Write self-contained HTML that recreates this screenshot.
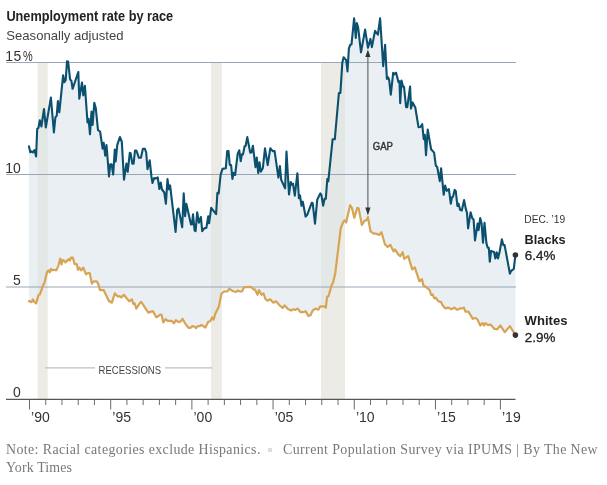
<!DOCTYPE html>
<html><head><meta charset="utf-8"><title>Unemployment rate by race</title>
<style>
html,body{margin:0;padding:0;background:#fff;}
body{width:607px;height:485px;overflow:hidden;position:relative;font-family:"Liberation Sans",sans-serif;}
svg{position:absolute;left:0;top:0;will-change:transform;}
svg text{font-family:"Liberation Sans",sans-serif;}
.foot{will-change:transform;position:absolute;left:6px;top:441px;width:601px;font-family:"Liberation Serif",serif;font-size:13.9px;line-height:18px;color:#787878;letter-spacing:0.4px;white-space:nowrap;}
.sep{display:inline-block;width:4px;height:4px;background:#ddd;margin:0 11px 2px 7.3px;vertical-align:middle;}
</style></head><body>
<svg width="607" height="485" viewBox="0 0 607 485">
<defs><clipPath id="ac"><path d="M29.0,146.4 L30.3,152.3 L31.6,151.3 L32.9,152.3 L34.5,150.0 L36.1,156.5 L37.2,129.0 L38.5,127.7 L39.8,120.3 L41.4,126.5 L44.0,109.0 L45.8,127.5 L50.9,97.6 L53.9,132.5 L55.4,117.2 L56.7,115.8 L57.9,101.0 L59.3,112.3 L63.1,75.3 L64.4,82.2 L65.7,80.1 L67.0,61.4 L68.1,61.6 L70.1,79.4 L71.4,80.7 L72.6,88.8 L78.3,72.0 L79.3,98.7 L82.0,82.5 L83.3,95.4 L84.9,85.8 L87.5,122.4 L88.6,118.8 L90.0,134.3 L91.5,111.5 L92.6,125.0 L94.3,102.9 L95.8,108.3 L98.0,130.1 L100.1,131.5 L102.6,148.6 L103.7,142.8 L105.2,155.6 L106.5,145.0 L109.0,176.4 L110.3,164.4 L111.6,164.4 L113.2,174.5 L114.8,149.5 L115.7,161.5 L117.2,145.2 L119.9,137.0 L121.8,141.6 L124.0,179.7 L126.4,163.6 L127.7,171.8 L129.8,152.9 L130.6,153.2 L132.3,163.7 L133.6,163.7 L135.0,150.5 L136.4,150.5 L138.9,157.8 L140.9,157.8 L142.9,148.7 L144.9,148.8 L146.2,152.5 L147.5,169.2 L149.7,160.3 L151.5,176.9 L152.5,183.0 L154.1,178.1 L156.1,178.4 L157.7,177.4 L159.4,189.0 L160.7,182.5 L162.0,189.5 L164.3,192.5 L165.9,203.8 L167.5,179.1 L168.8,189.3 L170.1,185.4 L175.6,231.9 L177.2,210.0 L178.5,208.5 L182.2,227.3 L183.7,193.3 L185.1,216.1 L186.4,203.9 L191.0,224.5 L192.0,224.5 L193.0,214.4 L194.6,230.4 L195.6,231.2 L197.2,212.4 L198.9,222.7 L200.9,217.1 L202.2,231.2 L204.2,228.3 L206.4,227.9 L208.2,216.4 L209.1,223.3 L211.2,207.8 L216.1,214.1 L217.4,192.7 L218.7,193.5 L220.6,174.9 L222.5,168.9 L225.8,168.3 L227.2,151.1 L228.5,151.1 L229.8,165.0 L231.1,165.0 L232.4,179.0 L233.7,172.7 L235.1,175.0 L237.7,153.7 L239.3,150.3 L240.7,161.2 L241.9,154.4 L243.0,154.4 L244.6,146.3 L245.6,146.0 L247.3,137.1 L250.2,152.6 L251.5,152.4 L252.9,145.7 L255.5,167.1 L256.8,157.5 L258.2,173.0 L259.5,162.2 L260.8,171.7 L262.8,168.3 L265.0,148.3 L267.7,165.1 L270.3,148.3 L272.7,151.1 L274.6,151.1 L278.4,177.6 L279.9,166.0 L281.2,179.8 L285.1,188.4 L286.5,151.5 L289.0,194.5 L290.7,182.0 L291.8,184.7 L293.0,183.7 L294.8,195.7 L297.4,173.2 L298.9,198.2 L300.0,195.4 L301.5,205.8 L302.8,201.7 L305.6,216.6 L307.3,214.7 L311.7,202.8 L312.7,203.3 L315.0,223.6 L317.2,199.8 L320.3,193.4 L321.4,194.9 L323.1,205.7 L324.6,198.8 L325.8,198.8 L327.3,179.0 L328.3,181.4 L332.6,139.3 L334.8,139.3 L338.9,93.0 L340.4,92.9 L342.3,62.8 L343.6,57.3 L346.2,60.1 L347.5,71.5 L348.9,48.3 L350.2,44.8 L351.5,44.5 L354.1,18.4 L355.8,37.9 L356.8,23.0 L358.1,27.2 L361.0,52.4 L365.1,29.6 L368.0,47.8 L370.4,38.9 L371.9,47.1 L375.0,30.9 L377.9,34.6 L380.1,18.4 L383.2,66.2 L385.1,44.8 L386.9,78.9 L388.2,77.3 L389.2,80.1 L390.8,94.7 L393.2,72.7 L394.6,74.3 L396.1,72.7 L398.5,82.2 L399.5,81.2 L400.2,103.3 L401.5,80.6 L403.1,86.7 L404.0,86.7 L406.1,107.1 L407.3,107.1 L410.1,86.5 L411.0,108.6 L412.6,102.4 L415.3,107.5 L418.5,127.2 L420.4,127.0 L422.2,124.2 L423.7,139.1 L424.8,134.8 L426.0,155.1 L427.7,129.5 L431.1,149.3 L434.1,152.6 L435.8,165.7 L437.2,167.0 L439.8,181.1 L441.1,168.2 L443.7,194.8 L445.1,185.6 L446.7,190.8 L448.9,189.2 L450.8,203.7 L452.0,197.1 L453.0,196.7 L454.7,189.8 L455.8,191.2 L457.4,206.0 L458.5,203.6 L460.1,209.7 L461.8,210.5 L464.1,200.1 L465.7,208.4 L467.0,213.0 L468.1,228.3 L470.6,212.2 L472.3,218.3 L473.6,219.6 L475.0,240.4 L477.6,223.6 L478.6,230.1 L480.2,218.1 L481.6,223.5 L483.0,242.7 L484.5,222.9 L486.4,243.1 L487.7,247.7 L488.8,247.7 L489.8,261.7 L491.1,250.8 L492.7,251.7 L494.0,251.7 L495.3,258.4 L496.7,252.2 L498.0,258.4 L499.6,251.7 L501.9,239.4 L503.3,245.1 L504.6,245.1 L509.9,273.6 L511.2,270.8 L513.8,268.8 L515.4,255.0 L515.4,335.1 L509.9,326.1 L504.7,332.2 L500.3,325.4 L497.3,329.2 L494.3,328.8 L490.6,324.6 L487.7,324.8 L485.4,323.1 L484.0,325.5 L482.5,323.1 L480.3,325.5 L477.3,319.1 L475.1,317.9 L472.8,318.8 L468.4,311.7 L465.4,311.7 L463.9,307.6 L462.4,308.4 L460.2,308.3 L457.3,309.9 L454.3,307.6 L451.3,309.2 L448.4,307.6 L445.4,308.4 L442.4,305.0 L441.0,302.1 L438.0,301.0 L435.9,297.7 L434.3,298.4 L432.6,294.4 L431.3,295.1 L429.6,290.1 L426.7,287.5 L423.4,285.5 L422.0,279.2 L419.4,281.3 L414.8,267.3 L412.2,269.4 L408.2,256.1 L404.2,258.8 L402.7,252.2 L400.3,256.2 L398.2,254.4 L394.9,249.4 L393.6,251.4 L390.3,244.8 L387.7,246.8 L385.0,244.5 L381.5,232.2 L379.1,234.9 L375.8,233.6 L373.8,233.6 L370.5,231.3 L367.9,217.1 L366.5,220.1 L364.6,220.7 L361.9,225.0 L358.6,208.2 L357.3,207.8 L354.3,217.8 L352.0,208.2 L350.1,205.2 L346.1,222.4 L344.8,220.4 L343.5,221.4 L340.8,228.0 L338.1,250.0 L335.4,272.4 L333.2,282.3 L331.5,285.6 L328.5,296.2 L327.1,296.8 L325.8,307.7 L324.2,306.4 L322.3,306.5 L320.3,306.4 L318.3,309.7 L315.6,308.6 L312.9,310.2 L310.3,315.5 L308.3,315.9 L305.7,311.2 L303.1,312.2 L300.4,312.2 L297.8,308.6 L295.1,309.9 L293.2,309.2 L291.2,310.6 L287.9,308.9 L284.6,305.3 L282.6,308.0 L279.3,305.0 L276.0,301.3 L273.4,302.7 L270.1,299.3 L267.4,300.7 L265.4,299.0 L263.5,293.4 L261.5,294.8 L258.9,290.1 L257.5,294.8 L254.9,289.4 L253.6,289.5 L250.9,286.8 L246.5,287.2 L244.1,287.2 L241.9,291.5 L239.9,291.5 L237.9,290.5 L236.0,291.9 L234.0,291.5 L231.3,290.2 L229.4,288.5 L227.4,291.5 L224.1,291.5 L221.5,293.5 L218.8,306.7 L215.5,313.3 L213.5,319.6 L212.2,317.5 L210.2,321.2 L208.3,321.8 L205.4,327.5 L201.4,324.8 L199.7,326.2 L197.7,326.1 L196.0,328.1 L194.4,326.5 L192.4,326.1 L190.4,327.8 L188.5,327.8 L185.8,324.5 L182.5,318.8 L180.8,321.5 L179.9,321.5 L178.6,322.2 L175.9,320.2 L173.9,323.3 L171.5,320.8 L167.6,320.8 L165.6,319.1 L163.3,322.5 L161.6,314.9 L160.3,314.5 L158.3,316.2 L156.3,317.2 L153.0,311.2 L151.1,311.6 L148.4,312.6 L144.5,306.9 L141.4,302.0 L139.9,303.0 L136.3,308.6 L134.6,303.3 L133.3,304.0 L131.9,299.3 L129.3,301.4 L123.8,294.7 L121.4,297.4 L119.4,296.0 L118.1,296.7 L114.8,293.4 L111.9,302.7 L108.9,301.0 L103.6,290.1 L100.0,290.1 L98.5,284.6 L96.7,281.3 L93.9,281.3 L91.9,283.6 L89.7,273.0 L87.3,273.4 L86.0,274.4 L83.3,267.7 L81.3,270.4 L79.4,267.7 L78.0,269.8 L76.7,264.1 L74.7,264.1 L72.8,257.5 L71.1,257.5 L69.9,260.5 L68.8,259.2 L67.5,260.2 L65.5,262.5 L63.6,260.2 L62.5,260.2 L61.6,264.5 L60.2,258.5 L58.3,266.1 L56.3,270.4 L53.6,269.7 L52.3,270.4 L51.0,269.0 L49.7,272.4 L48.4,270.4 L47.0,272.0 L44.4,283.3 L43.1,285.2 L41.1,291.2 L39.8,294.5 L38.5,295.1 L36.1,303.4 L34.2,301.7 L32.9,299.4 L31.6,302.1 L29.0,301.1 Z"/></clipPath></defs>
<text x="6.4" y="20.9" font-size="13.8px" font-weight="700" fill="#222" textLength="166.8" lengthAdjust="spacingAndGlyphs">Unemployment rate by race</text>
<text x="6.3" y="39.9" font-size="13.1px" fill="#444">Seasonally adjusted</text>
<g fill="#ecebe5"><rect x="37.6" y="62.3" width="10.1" height="337.1"/><rect x="211.0" y="62.3" width="10.8" height="337.1"/><rect x="321.0" y="62.3" width="24.0" height="337.1"/></g>
<path d="M29.0,146.4 L30.3,152.3 L31.6,151.3 L32.9,152.3 L34.5,150.0 L36.1,156.5 L37.2,129.0 L38.5,127.7 L39.8,120.3 L41.4,126.5 L44.0,109.0 L45.8,127.5 L50.9,97.6 L53.9,132.5 L55.4,117.2 L56.7,115.8 L57.9,101.0 L59.3,112.3 L63.1,75.3 L64.4,82.2 L65.7,80.1 L67.0,61.4 L68.1,61.6 L70.1,79.4 L71.4,80.7 L72.6,88.8 L78.3,72.0 L79.3,98.7 L82.0,82.5 L83.3,95.4 L84.9,85.8 L87.5,122.4 L88.6,118.8 L90.0,134.3 L91.5,111.5 L92.6,125.0 L94.3,102.9 L95.8,108.3 L98.0,130.1 L100.1,131.5 L102.6,148.6 L103.7,142.8 L105.2,155.6 L106.5,145.0 L109.0,176.4 L110.3,164.4 L111.6,164.4 L113.2,174.5 L114.8,149.5 L115.7,161.5 L117.2,145.2 L119.9,137.0 L121.8,141.6 L124.0,179.7 L126.4,163.6 L127.7,171.8 L129.8,152.9 L130.6,153.2 L132.3,163.7 L133.6,163.7 L135.0,150.5 L136.4,150.5 L138.9,157.8 L140.9,157.8 L142.9,148.7 L144.9,148.8 L146.2,152.5 L147.5,169.2 L149.7,160.3 L151.5,176.9 L152.5,183.0 L154.1,178.1 L156.1,178.4 L157.7,177.4 L159.4,189.0 L160.7,182.5 L162.0,189.5 L164.3,192.5 L165.9,203.8 L167.5,179.1 L168.8,189.3 L170.1,185.4 L175.6,231.9 L177.2,210.0 L178.5,208.5 L182.2,227.3 L183.7,193.3 L185.1,216.1 L186.4,203.9 L191.0,224.5 L192.0,224.5 L193.0,214.4 L194.6,230.4 L195.6,231.2 L197.2,212.4 L198.9,222.7 L200.9,217.1 L202.2,231.2 L204.2,228.3 L206.4,227.9 L208.2,216.4 L209.1,223.3 L211.2,207.8 L216.1,214.1 L217.4,192.7 L218.7,193.5 L220.6,174.9 L222.5,168.9 L225.8,168.3 L227.2,151.1 L228.5,151.1 L229.8,165.0 L231.1,165.0 L232.4,179.0 L233.7,172.7 L235.1,175.0 L237.7,153.7 L239.3,150.3 L240.7,161.2 L241.9,154.4 L243.0,154.4 L244.6,146.3 L245.6,146.0 L247.3,137.1 L250.2,152.6 L251.5,152.4 L252.9,145.7 L255.5,167.1 L256.8,157.5 L258.2,173.0 L259.5,162.2 L260.8,171.7 L262.8,168.3 L265.0,148.3 L267.7,165.1 L270.3,148.3 L272.7,151.1 L274.6,151.1 L278.4,177.6 L279.9,166.0 L281.2,179.8 L285.1,188.4 L286.5,151.5 L289.0,194.5 L290.7,182.0 L291.8,184.7 L293.0,183.7 L294.8,195.7 L297.4,173.2 L298.9,198.2 L300.0,195.4 L301.5,205.8 L302.8,201.7 L305.6,216.6 L307.3,214.7 L311.7,202.8 L312.7,203.3 L315.0,223.6 L317.2,199.8 L320.3,193.4 L321.4,194.9 L323.1,205.7 L324.6,198.8 L325.8,198.8 L327.3,179.0 L328.3,181.4 L332.6,139.3 L334.8,139.3 L338.9,93.0 L340.4,92.9 L342.3,62.8 L343.6,57.3 L346.2,60.1 L347.5,71.5 L348.9,48.3 L350.2,44.8 L351.5,44.5 L354.1,18.4 L355.8,37.9 L356.8,23.0 L358.1,27.2 L361.0,52.4 L365.1,29.6 L368.0,47.8 L370.4,38.9 L371.9,47.1 L375.0,30.9 L377.9,34.6 L380.1,18.4 L383.2,66.2 L385.1,44.8 L386.9,78.9 L388.2,77.3 L389.2,80.1 L390.8,94.7 L393.2,72.7 L394.6,74.3 L396.1,72.7 L398.5,82.2 L399.5,81.2 L400.2,103.3 L401.5,80.6 L403.1,86.7 L404.0,86.7 L406.1,107.1 L407.3,107.1 L410.1,86.5 L411.0,108.6 L412.6,102.4 L415.3,107.5 L418.5,127.2 L420.4,127.0 L422.2,124.2 L423.7,139.1 L424.8,134.8 L426.0,155.1 L427.7,129.5 L431.1,149.3 L434.1,152.6 L435.8,165.7 L437.2,167.0 L439.8,181.1 L441.1,168.2 L443.7,194.8 L445.1,185.6 L446.7,190.8 L448.9,189.2 L450.8,203.7 L452.0,197.1 L453.0,196.7 L454.7,189.8 L455.8,191.2 L457.4,206.0 L458.5,203.6 L460.1,209.7 L461.8,210.5 L464.1,200.1 L465.7,208.4 L467.0,213.0 L468.1,228.3 L470.6,212.2 L472.3,218.3 L473.6,219.6 L475.0,240.4 L477.6,223.6 L478.6,230.1 L480.2,218.1 L481.6,223.5 L483.0,242.7 L484.5,222.9 L486.4,243.1 L487.7,247.7 L488.8,247.7 L489.8,261.7 L491.1,250.8 L492.7,251.7 L494.0,251.7 L495.3,258.4 L496.7,252.2 L498.0,258.4 L499.6,251.7 L501.9,239.4 L503.3,245.1 L504.6,245.1 L509.9,273.6 L511.2,270.8 L513.8,268.8 L515.4,255.0 L515.4,335.1 L509.9,326.1 L504.7,332.2 L500.3,325.4 L497.3,329.2 L494.3,328.8 L490.6,324.6 L487.7,324.8 L485.4,323.1 L484.0,325.5 L482.5,323.1 L480.3,325.5 L477.3,319.1 L475.1,317.9 L472.8,318.8 L468.4,311.7 L465.4,311.7 L463.9,307.6 L462.4,308.4 L460.2,308.3 L457.3,309.9 L454.3,307.6 L451.3,309.2 L448.4,307.6 L445.4,308.4 L442.4,305.0 L441.0,302.1 L438.0,301.0 L435.9,297.7 L434.3,298.4 L432.6,294.4 L431.3,295.1 L429.6,290.1 L426.7,287.5 L423.4,285.5 L422.0,279.2 L419.4,281.3 L414.8,267.3 L412.2,269.4 L408.2,256.1 L404.2,258.8 L402.7,252.2 L400.3,256.2 L398.2,254.4 L394.9,249.4 L393.6,251.4 L390.3,244.8 L387.7,246.8 L385.0,244.5 L381.5,232.2 L379.1,234.9 L375.8,233.6 L373.8,233.6 L370.5,231.3 L367.9,217.1 L366.5,220.1 L364.6,220.7 L361.9,225.0 L358.6,208.2 L357.3,207.8 L354.3,217.8 L352.0,208.2 L350.1,205.2 L346.1,222.4 L344.8,220.4 L343.5,221.4 L340.8,228.0 L338.1,250.0 L335.4,272.4 L333.2,282.3 L331.5,285.6 L328.5,296.2 L327.1,296.8 L325.8,307.7 L324.2,306.4 L322.3,306.5 L320.3,306.4 L318.3,309.7 L315.6,308.6 L312.9,310.2 L310.3,315.5 L308.3,315.9 L305.7,311.2 L303.1,312.2 L300.4,312.2 L297.8,308.6 L295.1,309.9 L293.2,309.2 L291.2,310.6 L287.9,308.9 L284.6,305.3 L282.6,308.0 L279.3,305.0 L276.0,301.3 L273.4,302.7 L270.1,299.3 L267.4,300.7 L265.4,299.0 L263.5,293.4 L261.5,294.8 L258.9,290.1 L257.5,294.8 L254.9,289.4 L253.6,289.5 L250.9,286.8 L246.5,287.2 L244.1,287.2 L241.9,291.5 L239.9,291.5 L237.9,290.5 L236.0,291.9 L234.0,291.5 L231.3,290.2 L229.4,288.5 L227.4,291.5 L224.1,291.5 L221.5,293.5 L218.8,306.7 L215.5,313.3 L213.5,319.6 L212.2,317.5 L210.2,321.2 L208.3,321.8 L205.4,327.5 L201.4,324.8 L199.7,326.2 L197.7,326.1 L196.0,328.1 L194.4,326.5 L192.4,326.1 L190.4,327.8 L188.5,327.8 L185.8,324.5 L182.5,318.8 L180.8,321.5 L179.9,321.5 L178.6,322.2 L175.9,320.2 L173.9,323.3 L171.5,320.8 L167.6,320.8 L165.6,319.1 L163.3,322.5 L161.6,314.9 L160.3,314.5 L158.3,316.2 L156.3,317.2 L153.0,311.2 L151.1,311.6 L148.4,312.6 L144.5,306.9 L141.4,302.0 L139.9,303.0 L136.3,308.6 L134.6,303.3 L133.3,304.0 L131.9,299.3 L129.3,301.4 L123.8,294.7 L121.4,297.4 L119.4,296.0 L118.1,296.7 L114.8,293.4 L111.9,302.7 L108.9,301.0 L103.6,290.1 L100.0,290.1 L98.5,284.6 L96.7,281.3 L93.9,281.3 L91.9,283.6 L89.7,273.0 L87.3,273.4 L86.0,274.4 L83.3,267.7 L81.3,270.4 L79.4,267.7 L78.0,269.8 L76.7,264.1 L74.7,264.1 L72.8,257.5 L71.1,257.5 L69.9,260.5 L68.8,259.2 L67.5,260.2 L65.5,262.5 L63.6,260.2 L62.5,260.2 L61.6,264.5 L60.2,258.5 L58.3,266.1 L56.3,270.4 L53.6,269.7 L52.3,270.4 L51.0,269.0 L49.7,272.4 L48.4,270.4 L47.0,272.0 L44.4,283.3 L43.1,285.2 L41.1,291.2 L39.8,294.5 L38.5,295.1 L36.1,303.4 L34.2,301.7 L32.9,299.4 L31.6,302.1 L29.0,301.1 Z" fill="#e9eff2"/>
<g fill="#e3e7e6" clip-path="url(#ac)"><rect x="37.6" y="62.3" width="10.1" height="337.1"/><rect x="211.0" y="62.3" width="10.8" height="337.1"/><rect x="321.0" y="62.3" width="24.0" height="337.1"/></g>
<g stroke="#98a6b5" stroke-width="1">
<line x1="6" x2="516" y1="62.5" y2="62.5"/>
<line x1="6" x2="516" y1="174.5" y2="174.5"/>
<line x1="6" x2="516" y1="287" y2="287"/>
</g>
<g font-size="14px" fill="#333">
<text x="5.2" y="60.7" letter-spacing="0.5">15</text><text x="23.1" y="60.7" textLength="9.7" lengthAdjust="spacingAndGlyphs">%</text>
<text x="20.8" y="173" text-anchor="end">10</text>
<text x="20.8" y="285.1" text-anchor="end">5</text>
<text x="20.8" y="396.7" text-anchor="end">0</text>
</g>
<path d="M29.0,301.1 L31.6,302.1 L32.9,299.4 L34.2,301.7 L36.1,303.4 L38.5,295.1 L39.8,294.5 L41.1,291.2 L43.1,285.2 L44.4,283.3 L47.0,272.0 L48.4,270.4 L49.7,272.4 L51.0,269.0 L52.3,270.4 L53.6,269.7 L56.3,270.4 L58.3,266.1 L60.2,258.5 L61.6,264.5 L62.5,260.2 L63.6,260.2 L65.5,262.5 L67.5,260.2 L68.8,259.2 L69.9,260.5 L71.1,257.5 L72.8,257.5 L74.7,264.1 L76.7,264.1 L78.0,269.8 L79.4,267.7 L81.3,270.4 L83.3,267.7 L86.0,274.4 L87.3,273.4 L89.7,273.0 L91.9,283.6 L93.9,281.3 L96.7,281.3 L98.5,284.6 L100.0,290.1 L103.6,290.1 L108.9,301.0 L111.9,302.7 L114.8,293.4 L118.1,296.7 L119.4,296.0 L121.4,297.4 L123.8,294.7 L129.3,301.4 L131.9,299.3 L133.3,304.0 L134.6,303.3 L136.3,308.6 L139.9,303.0 L141.4,302.0 L144.5,306.9 L148.4,312.6 L151.1,311.6 L153.0,311.2 L156.3,317.2 L158.3,316.2 L160.3,314.5 L161.6,314.9 L163.3,322.5 L165.6,319.1 L167.6,320.8 L171.5,320.8 L173.9,323.3 L175.9,320.2 L178.6,322.2 L179.9,321.5 L180.8,321.5 L182.5,318.8 L185.8,324.5 L188.5,327.8 L190.4,327.8 L192.4,326.1 L194.4,326.5 L196.0,328.1 L197.7,326.1 L199.7,326.2 L201.4,324.8 L205.4,327.5 L208.3,321.8 L210.2,321.2 L212.2,317.5 L213.5,319.6 L215.5,313.3 L218.8,306.7 L221.5,293.5 L224.1,291.5 L227.4,291.5 L229.4,288.5 L231.3,290.2 L234.0,291.5 L236.0,291.9 L237.9,290.5 L239.9,291.5 L241.9,291.5 L244.1,287.2 L246.5,287.2 L250.9,286.8 L253.6,289.5 L254.9,289.4 L257.5,294.8 L258.9,290.1 L261.5,294.8 L263.5,293.4 L265.4,299.0 L267.4,300.7 L270.1,299.3 L273.4,302.7 L276.0,301.3 L279.3,305.0 L282.6,308.0 L284.6,305.3 L287.9,308.9 L291.2,310.6 L293.2,309.2 L295.1,309.9 L297.8,308.6 L300.4,312.2 L303.1,312.2 L305.7,311.2 L308.3,315.9 L310.3,315.5 L312.9,310.2 L315.6,308.6 L318.3,309.7 L320.3,306.4 L322.3,306.5 L324.2,306.4 L325.8,307.7 L327.1,296.8 L328.5,296.2 L331.5,285.6 L333.2,282.3 L335.4,272.4 L338.1,250.0 L340.8,228.0 L343.5,221.4 L344.8,220.4 L346.1,222.4 L350.1,205.2 L352.0,208.2 L354.3,217.8 L357.3,207.8 L358.6,208.2 L361.9,225.0 L364.6,220.7 L366.5,220.1 L367.9,217.1 L370.5,231.3 L373.8,233.6 L375.8,233.6 L379.1,234.9 L381.5,232.2 L385.0,244.5 L387.7,246.8 L390.3,244.8 L393.6,251.4 L394.9,249.4 L398.2,254.4 L400.3,256.2 L402.7,252.2 L404.2,258.8 L408.2,256.1 L412.2,269.4 L414.8,267.3 L419.4,281.3 L422.0,279.2 L423.4,285.5 L426.7,287.5 L429.6,290.1 L431.3,295.1 L432.6,294.4 L434.3,298.4 L435.9,297.7 L438.0,301.0 L441.0,302.1 L442.4,305.0 L445.4,308.4 L448.4,307.6 L451.3,309.2 L454.3,307.6 L457.3,309.9 L460.2,308.3 L462.4,308.4 L463.9,307.6 L465.4,311.7 L468.4,311.7 L472.8,318.8 L475.1,317.9 L477.3,319.1 L480.3,325.5 L482.5,323.1 L484.0,325.5 L485.4,323.1 L487.7,324.8 L490.6,324.6 L494.3,328.8 L497.3,329.2 L500.3,325.4 L504.7,332.2 L509.9,326.1 L515.4,335.1" fill="none" stroke="#d7a454" stroke-width="2.2" stroke-linejoin="round" stroke-linecap="round"/>
<path d="M29.0,146.4 L30.3,152.3 L31.6,151.3 L32.9,152.3 L34.5,150.0 L36.1,156.5 L37.2,129.0 L38.5,127.7 L39.8,120.3 L41.4,126.5 L44.0,109.0 L45.8,127.5 L50.9,97.6 L53.9,132.5 L55.4,117.2 L56.7,115.8 L57.9,101.0 L59.3,112.3 L63.1,75.3 L64.4,82.2 L65.7,80.1 L67.0,61.4 L68.1,61.6 L70.1,79.4 L71.4,80.7 L72.6,88.8 L78.3,72.0 L79.3,98.7 L82.0,82.5 L83.3,95.4 L84.9,85.8 L87.5,122.4 L88.6,118.8 L90.0,134.3 L91.5,111.5 L92.6,125.0 L94.3,102.9 L95.8,108.3 L98.0,130.1 L100.1,131.5 L102.6,148.6 L103.7,142.8 L105.2,155.6 L106.5,145.0 L109.0,176.4 L110.3,164.4 L111.6,164.4 L113.2,174.5 L114.8,149.5 L115.7,161.5 L117.2,145.2 L119.9,137.0 L121.8,141.6 L124.0,179.7 L126.4,163.6 L127.7,171.8 L129.8,152.9 L130.6,153.2 L132.3,163.7 L133.6,163.7 L135.0,150.5 L136.4,150.5 L138.9,157.8 L140.9,157.8 L142.9,148.7 L144.9,148.8 L146.2,152.5 L147.5,169.2 L149.7,160.3 L151.5,176.9 L152.5,183.0 L154.1,178.1 L156.1,178.4 L157.7,177.4 L159.4,189.0 L160.7,182.5 L162.0,189.5 L164.3,192.5 L165.9,203.8 L167.5,179.1 L168.8,189.3 L170.1,185.4 L175.6,231.9 L177.2,210.0 L178.5,208.5 L182.2,227.3 L183.7,193.3 L185.1,216.1 L186.4,203.9 L191.0,224.5 L192.0,224.5 L193.0,214.4 L194.6,230.4 L195.6,231.2 L197.2,212.4 L198.9,222.7 L200.9,217.1 L202.2,231.2 L204.2,228.3 L206.4,227.9 L208.2,216.4 L209.1,223.3 L211.2,207.8 L216.1,214.1 L217.4,192.7 L218.7,193.5 L220.6,174.9 L222.5,168.9 L225.8,168.3 L227.2,151.1 L228.5,151.1 L229.8,165.0 L231.1,165.0 L232.4,179.0 L233.7,172.7 L235.1,175.0 L237.7,153.7 L239.3,150.3 L240.7,161.2 L241.9,154.4 L243.0,154.4 L244.6,146.3 L245.6,146.0 L247.3,137.1 L250.2,152.6 L251.5,152.4 L252.9,145.7 L255.5,167.1 L256.8,157.5 L258.2,173.0 L259.5,162.2 L260.8,171.7 L262.8,168.3 L265.0,148.3 L267.7,165.1 L270.3,148.3 L272.7,151.1 L274.6,151.1 L278.4,177.6 L279.9,166.0 L281.2,179.8 L285.1,188.4 L286.5,151.5 L289.0,194.5 L290.7,182.0 L291.8,184.7 L293.0,183.7 L294.8,195.7 L297.4,173.2 L298.9,198.2 L300.0,195.4 L301.5,205.8 L302.8,201.7 L305.6,216.6 L307.3,214.7 L311.7,202.8 L312.7,203.3 L315.0,223.6 L317.2,199.8 L320.3,193.4 L321.4,194.9 L323.1,205.7 L324.6,198.8 L325.8,198.8 L327.3,179.0 L328.3,181.4 L332.6,139.3 L334.8,139.3 L338.9,93.0 L340.4,92.9 L342.3,62.8 L343.6,57.3 L346.2,60.1 L347.5,71.5 L348.9,48.3 L350.2,44.8 L351.5,44.5 L354.1,18.4 L355.8,37.9 L356.8,23.0 L358.1,27.2 L361.0,52.4 L365.1,29.6 L368.0,47.8 L370.4,38.9 L371.9,47.1 L375.0,30.9 L377.9,34.6 L380.1,18.4 L383.2,66.2 L385.1,44.8 L386.9,78.9 L388.2,77.3 L389.2,80.1 L390.8,94.7 L393.2,72.7 L394.6,74.3 L396.1,72.7 L398.5,82.2 L399.5,81.2 L400.2,103.3 L401.5,80.6 L403.1,86.7 L404.0,86.7 L406.1,107.1 L407.3,107.1 L410.1,86.5 L411.0,108.6 L412.6,102.4 L415.3,107.5 L418.5,127.2 L420.4,127.0 L422.2,124.2 L423.7,139.1 L424.8,134.8 L426.0,155.1 L427.7,129.5 L431.1,149.3 L434.1,152.6 L435.8,165.7 L437.2,167.0 L439.8,181.1 L441.1,168.2 L443.7,194.8 L445.1,185.6 L446.7,190.8 L448.9,189.2 L450.8,203.7 L452.0,197.1 L453.0,196.7 L454.7,189.8 L455.8,191.2 L457.4,206.0 L458.5,203.6 L460.1,209.7 L461.8,210.5 L464.1,200.1 L465.7,208.4 L467.0,213.0 L468.1,228.3 L470.6,212.2 L472.3,218.3 L473.6,219.6 L475.0,240.4 L477.6,223.6 L478.6,230.1 L480.2,218.1 L481.6,223.5 L483.0,242.7 L484.5,222.9 L486.4,243.1 L487.7,247.7 L488.8,247.7 L489.8,261.7 L491.1,250.8 L492.7,251.7 L494.0,251.7 L495.3,258.4 L496.7,252.2 L498.0,258.4 L499.6,251.7 L501.9,239.4 L503.3,245.1 L504.6,245.1 L509.9,273.6 L511.2,270.8 L513.8,268.8 L515.4,255.0" fill="none" stroke="#0c506f" stroke-width="2.1" stroke-linejoin="round" stroke-linecap="round"/>
<g stroke="#5a5f62" stroke-width="1.1"><line x1="367.9" x2="367.9" y1="55" y2="209"/></g>
<path d="M367.9,49.6 L370.5,57 L365.3,57 Z M367.9,215.6 L370.5,207.6 L365.3,207.6 Z" fill="#333"/>
<text x="372.7" y="149.7" font-size="10px" fill="#333" stroke="#333" stroke-width="0.4" textLength="20.3" lengthAdjust="spacingAndGlyphs">GAP</text>
<g stroke="#bfbfbd" stroke-width="1.2"><line x1="45" x2="95" y1="367.8" y2="367.8"/><line x1="165" x2="212.3" y1="367.8" y2="367.8"/></g>
<text x="98.5" y="374" font-size="11px" fill="#444" textLength="62.6" lengthAdjust="spacingAndGlyphs">RECESSIONS</text>
<g stroke="#555" stroke-width="1.2"><line x1="6" x2="515.5" y1="399.4" y2="399.4"/></g>
<g stroke="#6a6a6a" stroke-width="1"><line x1="29.50" x2="29.50" y1="399.5" y2="409.5"/><line x1="45.74" x2="45.74" y1="399.5" y2="405"/><line x1="61.98" x2="61.98" y1="399.5" y2="405"/><line x1="78.21" x2="78.21" y1="399.5" y2="405"/><line x1="94.45" x2="94.45" y1="399.5" y2="405"/><line x1="110.69" x2="110.69" y1="399.5" y2="409.5"/><line x1="126.93" x2="126.93" y1="399.5" y2="405"/><line x1="143.17" x2="143.17" y1="399.5" y2="405"/><line x1="159.40" x2="159.40" y1="399.5" y2="405"/><line x1="175.64" x2="175.64" y1="399.5" y2="405"/><line x1="191.88" x2="191.88" y1="399.5" y2="409.5"/><line x1="208.12" x2="208.12" y1="399.5" y2="405"/><line x1="224.36" x2="224.36" y1="399.5" y2="405"/><line x1="240.59" x2="240.59" y1="399.5" y2="405"/><line x1="256.83" x2="256.83" y1="399.5" y2="405"/><line x1="273.07" x2="273.07" y1="399.5" y2="409.5"/><line x1="289.31" x2="289.31" y1="399.5" y2="405"/><line x1="305.55" x2="305.55" y1="399.5" y2="405"/><line x1="321.78" x2="321.78" y1="399.5" y2="405"/><line x1="338.02" x2="338.02" y1="399.5" y2="405"/><line x1="354.26" x2="354.26" y1="399.5" y2="409.5"/><line x1="370.50" x2="370.50" y1="399.5" y2="405"/><line x1="386.74" x2="386.74" y1="399.5" y2="405"/><line x1="402.97" x2="402.97" y1="399.5" y2="405"/><line x1="419.21" x2="419.21" y1="399.5" y2="405"/><line x1="435.45" x2="435.45" y1="399.5" y2="409.5"/><line x1="451.69" x2="451.69" y1="399.5" y2="405"/><line x1="467.93" x2="467.93" y1="399.5" y2="405"/><line x1="484.16" x2="484.16" y1="399.5" y2="405"/><line x1="500.40" x2="500.40" y1="399.5" y2="409.5"/></g>
<g font-size="14px" fill="#333"><text x="31.1" y="421.9">’90</text><text x="112.3" y="421.9">’95</text><text x="193.5" y="421.9">’00</text><text x="274.7" y="421.9">’05</text><text x="355.9" y="421.9">’10</text><text x="437.1" y="421.9">’15</text><text x="502.0" y="421.9">’19</text></g>
<circle cx="515.4" cy="255" r="2.8" fill="#333"/>
<circle cx="515.4" cy="335.1" r="2.8" fill="#333"/>
<text x="524.3" y="222.6" font-size="10px" fill="#333" textLength="40.8" lengthAdjust="spacingAndGlyphs">DEC. ’19</text>
<g font-size="13px" fill="#222">
<text x="524.6" y="243.6" font-weight="700" textLength="41" lengthAdjust="spacingAndGlyphs">Blacks</text>
<text x="524.8" y="259.5" stroke="#222" stroke-width="0.3" textLength="30.6" lengthAdjust="spacingAndGlyphs">6.4%</text>
<text x="524.6" y="325.3" font-weight="700" textLength="42.9" lengthAdjust="spacingAndGlyphs">Whites</text>
<text x="524.8" y="341.6" stroke="#222" stroke-width="0.3" textLength="30.6" lengthAdjust="spacingAndGlyphs">2.9%</text>
</g>
</svg>
<div class="foot">Note: Racial categories exclude Hispanics.<span class="sep"></span>Current Population Survey via IPUMS | By The New<br><span style="letter-spacing:0.15px">York Times</span></div>
</body></html>
